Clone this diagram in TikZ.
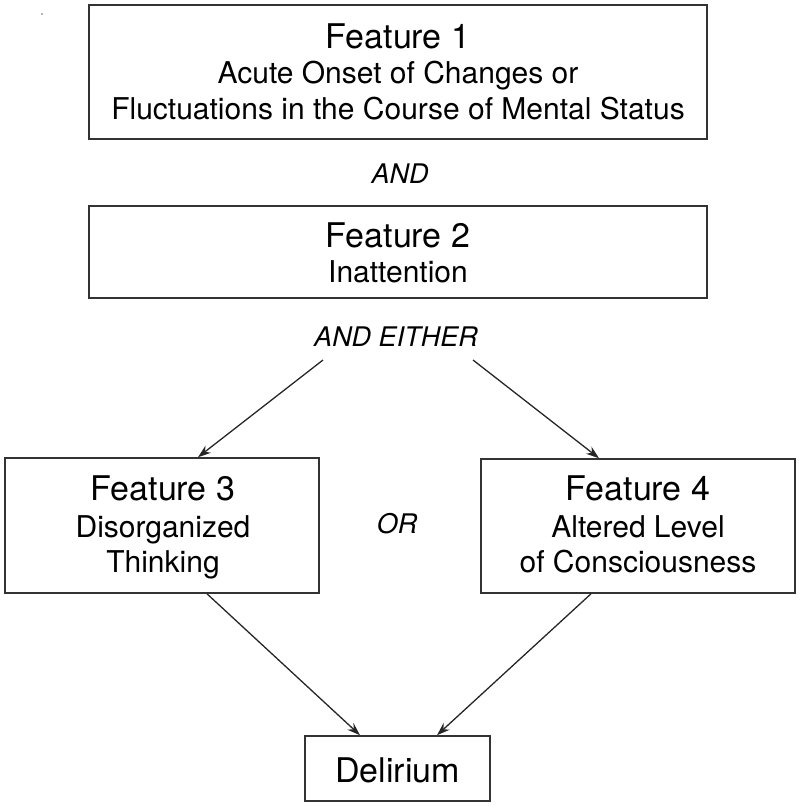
\documentclass[tikz,border=0pt]{standalone}
\usepackage{fontspec}
\setmainfont{TeX Gyre Heros}
\usetikzlibrary{arrows.meta}
\begin{document}
\begin{tikzpicture}[x=1pt,y=-1pt,
  box/.style={draw=black!80, line width=1.6pt, inner sep=0pt, rectangle},
  ttl/.style={anchor=base, inner sep=0pt, font=\fontsize{34}{40}\selectfont},
  sub/.style={anchor=base, inner sep=0pt, font=\fontsize{30}{36}\selectfont},
  conj/.style={inner sep=0pt, font=\fontsize{27}{32}\selectfont\itshape},
  arr/.style={draw=black!85, line width=1.3pt, -{Stealth[length=13pt,width=9pt]}}]
\useasboundingbox (0,0) rectangle (800,807);
\fill[black!60] (42,14) circle (0.9);
% Feature 1
\node[box, minimum width=618, minimum height=134] (f1) at (398,72) {};
\node[ttl] (f1a) at (398,48) {Feature 1};
\node[sub] (f1b) at (398,83) {Acute Onset of Changes or};
\node[sub] (f1c) at (398,119) {Fluctuations in the Course of Mental Status};
\node[conj] (and) at (400,174) {AND};
% Feature 2
\node[box, minimum width=618, minimum height=92] (f2) at (398,252) {};
\node[ttl] (f2a) at (398,247) {Feature 2};
\node[sub] (f2b) at (398,282) {Inattention};
\node[conj] (either) at (396,337) {AND EITHER};
% Feature 3
\node[box, minimum width=314, minimum height=135] (f3) at (162,525.5) {};
\node[ttl] (f3a) at (163,500) {Feature 3};
\node[sub] (f3b) at (163,537) {Disorganized};
\node[sub] (f3c) at (163,572) {Thinking};
\node[conj] (or) at (397,524) {OR};
% Feature 4
\node[box, minimum width=314, minimum height=134] (f4) at (638,526) {};
\node[ttl] (f4a) at (638,500) {Feature 4};
\node[sub] (f4b) at (638,537) {Altered Level};
\node[sub] (f4c) at (638,572) {of Consciousness};
% Delirium
\node[box, minimum width=185, minimum height=65] (del) at (397.5,768.5) {};
\node[ttl] (dela) at (397.5,782) {Delirium};
% connectors
\coordinate (s1) at (323,360);
\coordinate (s2) at (473,360);
\draw[arr] (s1) -- ([xshift=36pt]f3.north);
\draw[arr] (s2) -- ([xshift=-39pt]f4.north);
\draw[arr] ([xshift=45pt]f3.south) -- ([xshift=-37.5pt]del.north);
\draw[arr] ([xshift=-47pt]f4.south) -- ([xshift=39.5pt]del.north);
\end{tikzpicture}
\end{document}
